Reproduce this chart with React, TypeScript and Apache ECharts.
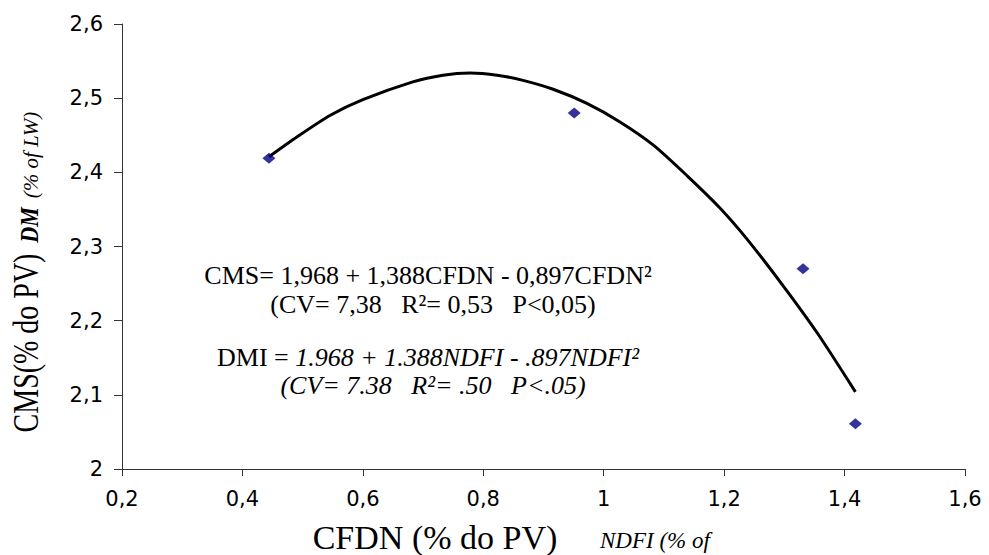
import React, { useEffect, useRef } from "react";
import * as echarts from "echarts";

// Observed points
const obsX = [0.444, 0.951, 1.331, 1.418];
const obsY = [2.419, 2.48, 2.27, 2.061];

// Fitted curve
const curveX = [0.444, 0.491, 0.546, 0.6, 0.683, 0.733, 0.778, 0.823, 0.866, 0.916, 0.972, 1.027, 1.082, 1.139, 1.193, 1.238, 1.298, 1.355, 1.418];
const curveY = [2.421, 2.448, 2.477, 2.498, 2.522, 2.531, 2.534, 2.531, 2.524, 2.512, 2.493, 2.468, 2.437, 2.395, 2.352, 2.31, 2.247, 2.183, 2.104];

// Axis ranges
const xRange = [0.2, 1.6, 0.2];
const yRange = [2.0, 2.6, 0.1];

// Texts
const eq1 = "CMS= 1,968 + 1,388CFDN - 0,897CFDN²";
const eq2 = "(CV= 7,38   R²= 0,53   P<0,05)";
const eq3a = "DMI = ";
const eq3b = "1.968 + 1.388NDFI - .897NDFI²";
const eq4 = "(CV= 7.38   R²= .50   P<.05)";
const xTitle = "CFDN (% do PV)";
const xTitleEn = "NDFI (% of";
const yTitle = "CMS(% do PV)";
const yTitleSub = "DM";
const yTitleEn = "(% of LW)";

const serif = "'Liberation Serif', 'Times New Roman', serif";
const sans = "'DejaVu Sans', Arial, sans-serif";

const fmt = (v: number) => String(+v.toFixed(1)).replace(".", ",");

export default function App() {
  const ref = useRef<HTMLDivElement>(null);
  useEffect(() => {
    if (!ref.current) return;
    const chart = echarts.init(ref.current, undefined, { renderer: "svg" });
    const txt = (x: number, y: number, text: string, size: number, extra: any = {}, rot = 0, sx = 1) => ({
      type: "text",
      x,
      y,
      rotation: rot,
      scaleX: sx,
      style: {
        text,
        fill: "#000",
        font: `${extra.fontStyle || "normal"} ${extra.fontWeight || "normal"} ${size}px ${serif}`,
        textAlign: extra.align || "center",
        textVerticalAlign: "middle",
      },
    });
    chart.setOption({
      animation: false,
      backgroundColor: "#fff",
      grid: { left: 122, right: 24, top: 24, bottom: 86 },
      xAxis: {
        type: "value",
        min: xRange[0],
        max: xRange[1],
        interval: xRange[2],
        axisLine: { show: true, lineStyle: { color: "#333", width: 1 } },
        axisTick: { show: true, inside: false, length: 7, lineStyle: { color: "#333" } },
        splitLine: { show: false },
        axisLabel: { margin: 19, fontSize: 21, fontFamily: sans, color: "#000", formatter: fmt },
      },
      yAxis: {
        type: "value",
        min: yRange[0],
        max: yRange[1],
        interval: yRange[2],
        axisLine: { show: true, lineStyle: { color: "#333", width: 1 } },
        axisTick: { show: true, inside: false, length: 8, lineStyle: { color: "#333" } },
        splitLine: { show: false },
        axisLabel: { margin: 19, fontSize: 21, fontFamily: sans, color: "#000", formatter: fmt },
      },
      series: [
        {
          type: "line",
          data: curveX.map((x, i) => [x, curveY[i]]),
          smooth: 0.25,
          symbol: "none",
          lineStyle: { color: "#000", width: 3 },
          z: 2,
        },
        {
          type: "scatter",
          data: obsX.map((x, i) => [x, obsY[i]]),
          symbol: "diamond",
          symbolSize: [13, 11],
          itemStyle: { color: "#000080" },
          z: 3,
        },
      ],
      graphic: [
        txt(428, 275, eq1, 26),
        txt(433, 304, eq2, 26),
        {
          type: "text",
          x: 428,
          y: 357,
          style: {
            text: `{n|${eq3a}}{i|${eq3b}}`,
            textAlign: "center",
            textVerticalAlign: "middle",
            rich: {
              n: { fontFamily: serif, fontSize: 26, fill: "#000", color: "#000" },
              i: { fontFamily: serif, fontSize: 26, fontStyle: "italic", fill: "#000", color: "#000" },
            },
          },
        },
        txt(433, 385, eq4, 26, { fontStyle: "italic" }),
        txt(435, 537, xTitle, 34),
        txt(600, 540, xTitleEn, 23, { fontStyle: "italic", align: "left" }),
        txt(26, 343, yTitle, 35, {}, Math.PI / 2, 0.8),
        txt(29, 225, yTitleSub, 26, { fontStyle: "italic", fontWeight: "bold" }, Math.PI / 2, 0.85),
        txt(31, 155, yTitleEn, 21, { fontStyle: "italic" }, Math.PI / 2),
      ],
    });
    return () => chart.dispose();
  }, []);
  return <div ref={ref} style={{ position: "fixed", left: 0, top: 0, width: 989, height: 555 }} />;
}
